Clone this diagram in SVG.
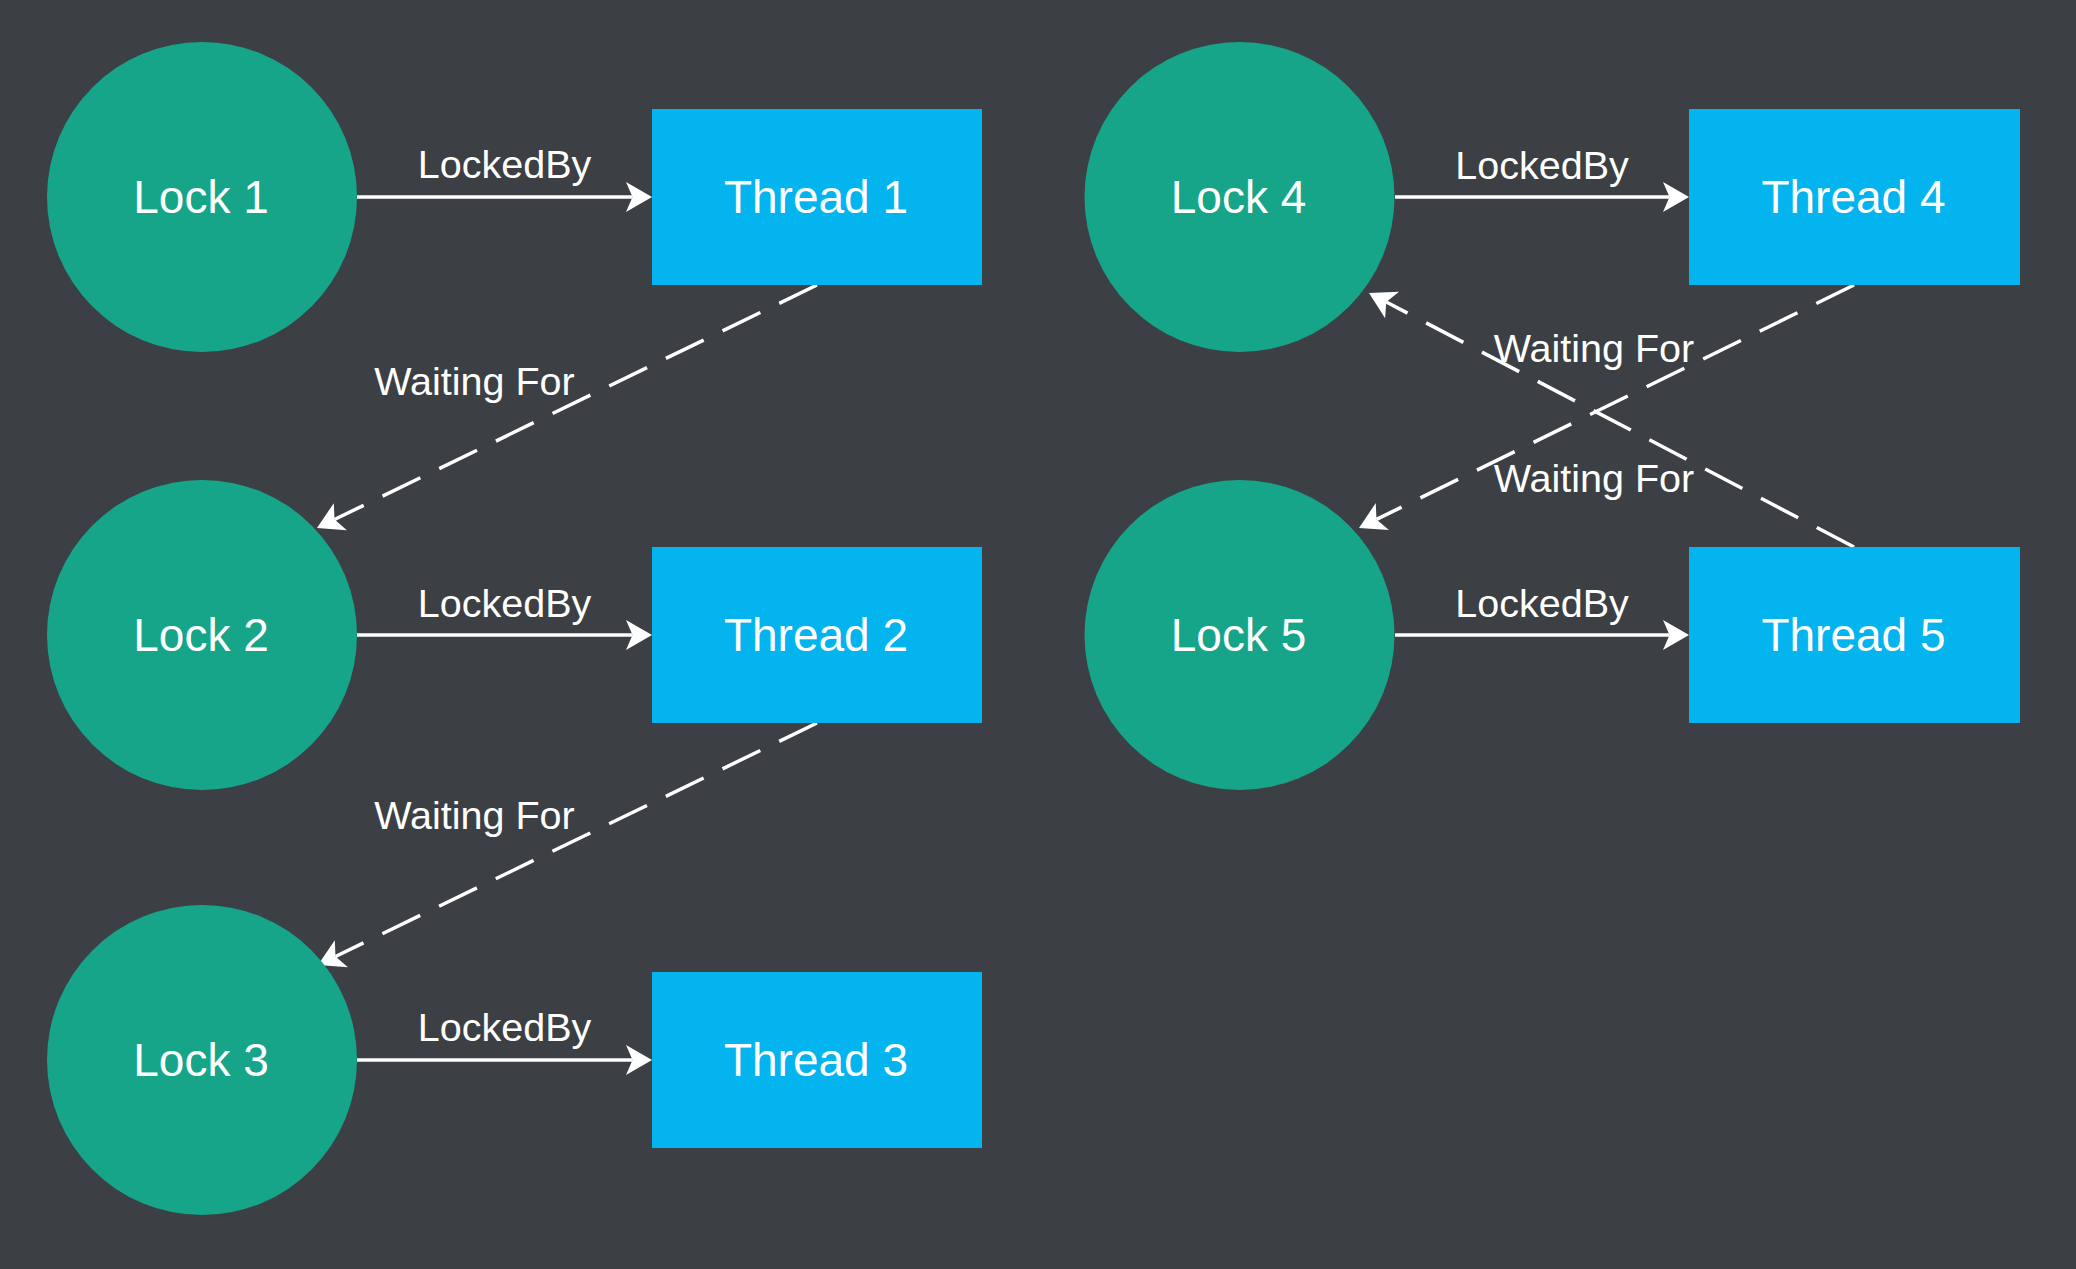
<svg xmlns="http://www.w3.org/2000/svg" width="2076" height="1269" viewBox="0 0 2076 1269">
<style>
.lock{fill:#17a589}
.thread{fill:#03b4ef}
.nl{font-family:"Liberation Sans",Arial,sans-serif;font-size:46px;fill:#ffffff;text-anchor:middle}
.el{font-family:"Liberation Sans",Arial,sans-serif;font-size:39.5px;fill:#ffffff;text-anchor:middle}
.e{fill:none;stroke:#ffffff;stroke-width:3.5}
.d{stroke-dasharray:42 21}
</style>
<defs>
<marker id="ah" viewBox="-7 -16 28 32" refX="0" refY="0" markerWidth="28" markerHeight="32" markerUnits="userSpaceOnUse" orient="auto">
<path d="M19.5,0 L-6.5,-15 L0,0 L-6.5,15 Z" fill="#ffffff"/>
</marker>
</defs>
<rect width="2076" height="1269" fill="#3c3f43"/>
<g id="connectors">
<path class="e" d="M357,197 L632.5,197" marker-end="url(#ah)"/>
<path class="e" d="M357,635 L632.5,635" marker-end="url(#ah)"/>
<path class="e" d="M357,1060 L632.5,1060" marker-end="url(#ah)"/>
<path class="e" d="M1395,197 L1669.5,197" marker-end="url(#ah)"/>
<path class="e" d="M1395,635 L1669.5,635" marker-end="url(#ah)"/>
<path class="e d" d="M817,285 L334.5,519.5" marker-end="url(#ah)"/>
<path class="e d" d="M817,723 L335.5,956.5" marker-end="url(#ah)"/>
<path class="e d" d="M1854,285 L1376.5,519.4" marker-end="url(#ah)"/>
<path class="e d" d="M1854,547 L1386.3,302" marker-end="url(#ah)"/>
<text class="el" x="504.5" y="178">LockedBy</text>
<text class="el" x="504.5" y="617">LockedBy</text>
<text class="el" x="504.5" y="1041">LockedBy</text>
<text class="el" x="1542" y="179">LockedBy</text>
<text class="el" x="1542" y="617">LockedBy</text>
<text class="el" x="474.5" y="395">Waiting For</text>
<text class="el" x="474.5" y="829">Waiting For</text>
<text class="el" x="1594" y="362">Waiting For</text>
<text class="el" x="1594" y="492">Waiting For</text>
</g>
<g id="lock1"><circle class="lock" cx="202" cy="197" r="155"/><text class="nl" x="201" y="213">Lock 1</text></g>
<g id="lock2"><circle class="lock" cx="202" cy="635" r="155"/><text class="nl" x="201" y="651">Lock 2</text></g>
<g id="lock3"><circle class="lock" cx="202" cy="1060" r="155"/><text class="nl" x="201" y="1076">Lock 3</text></g>
<g id="lock4"><circle class="lock" cx="1239.5" cy="197" r="155"/><text class="nl" x="1238.5" y="213">Lock 4</text></g>
<g id="lock5"><circle class="lock" cx="1239.5" cy="635" r="155"/><text class="nl" x="1238.5" y="651">Lock 5</text></g>
<g id="thread1"><rect class="thread" x="652" y="109" width="330" height="176"/><text class="nl" x="816" y="213">Thread 1</text></g>
<g id="thread2"><rect class="thread" x="652" y="547" width="330" height="176"/><text class="nl" x="816" y="651">Thread 2</text></g>
<g id="thread3"><rect class="thread" x="652" y="972" width="330" height="176"/><text class="nl" x="816" y="1076">Thread 3</text></g>
<g id="thread4"><rect class="thread" x="1689" y="109" width="331" height="176"/><text class="nl" x="1853.5" y="213">Thread 4</text></g>
<g id="thread5"><rect class="thread" x="1689" y="547" width="331" height="176"/><text class="nl" x="1853.5" y="651">Thread 5</text></g>
</svg>
